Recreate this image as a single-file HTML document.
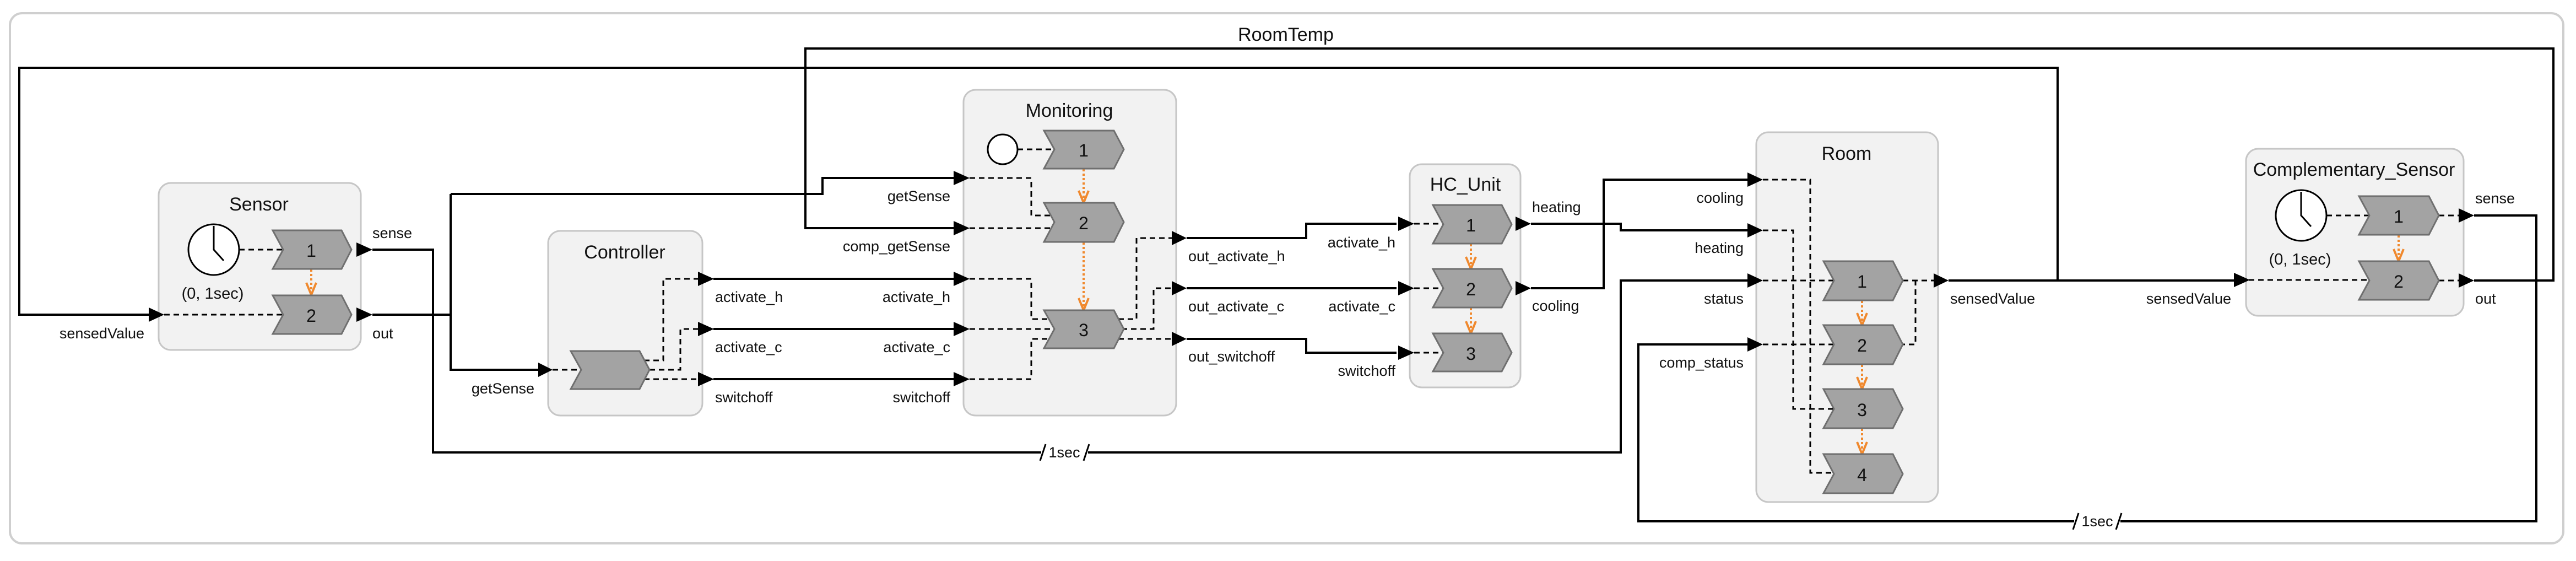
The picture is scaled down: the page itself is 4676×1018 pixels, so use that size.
<!DOCTYPE html>
<html><head><meta charset="utf-8"><style>
html,body{margin:0;padding:0;background:#fff;}
svg{display:block;}
text{font-family:"Liberation Sans",sans-serif;fill:#111;}
.l{font-size:27px;}
.t{font-size:34px;}
.n{font-size:32px;}
</style></head><body>
<svg width="4676" height="1018" viewBox="0 0 4676 1018" xmlns="http://www.w3.org/2000/svg">
<rect x="18" y="24" width="4635" height="962" rx="22" fill="#fff" stroke="#cfcfcf" stroke-width="4"/>

<g fill="#f2f2f2" stroke="#c6c6c6" stroke-width="3">
<rect x="288" y="332" width="367" height="303" rx="22"/>
<rect x="995" y="419" width="280" height="335" rx="22"/>
<rect x="1749" y="163" width="386" height="591" rx="22"/>
<rect x="2559" y="298" width="201" height="405" rx="22"/>
<rect x="3188" y="240" width="330" height="671" rx="22"/>
<rect x="4077" y="270" width="395" height="303" rx="22"/>
</g>
<g class="t" text-anchor="middle" dominant-baseline="central">
<text x="470" y="371" class="t">Sensor</text>
<text x="1134" y="458" class="t">Controller</text>
<text x="1941" y="201" class="t">Monitoring</text>
<text x="2660" y="335" class="t">HC_Unit</text>
<text x="3352" y="279" class="t">Room</text>
<text x="4273" y="308" class="t">Complementary_Sensor</text>
<text x="2334" y="63" class="t">RoomTemp</text>
</g>

<g fill="none" stroke="#000" stroke-width="4">
<path d="M3537,509 L4057,509"/>
<path d="M3735,509 L3735,123 L35,123 L35,571 L270,571"/>
<path d="M676,453 L786,453 L786,821 L1890,821 M1975,821 L2942,821 L2942,509 L3172,509"/>
<path d="M676,571 L818,571 M818,352 L818,671 L977,671 M818,352 L1493,352 L1493,323 L1731,323"/>
<path d="M1295,506 L1731,506 M1295,597 L1731,597 M1295,688 L1731,688"/>
<path d="M4491,509 L4635,509 L4635,88 L1462,88 L1462,414 L1731,414"/>
<path d="M2154,432 L2371,432 L2371,406 L2535,406 M2154,523 L2535,523 M2154,615 L2371,615 L2371,640 L2535,640"/>
<path d="M2779,406 L2942,406 L2942,418 L3172,418 M2779,523 L2911,523 L2911,326 L3172,326"/>
<path d="M4491,391 L4604,391 L4604,946 L3849,946 M3765,946 L2974,946 L2974,625 L3172,625"/>
</g>
<g stroke="#000" stroke-width="3">
<line x1="1888" y1="836" x2="1898" y2="806"/>
<line x1="1967" y1="836" x2="1977" y2="806"/>
<line x1="3763" y1="961" x2="3773" y2="931"/>
<line x1="3841" y1="961" x2="3851" y2="931"/>
</g>
<text x="1932" y="821" class="l" text-anchor="middle" dominant-baseline="central">1sec</text>
<text x="3807" y="946" class="l" text-anchor="middle" dominant-baseline="central">1sec</text>

<g fill="none" stroke="#000" stroke-width="3" stroke-dasharray="10 7">
<path d="M434,453 L514,453 M298,571 L514,571"/>
<path d="M1003,671 L1055,671 M1169,654 L1204,654 L1204,506 L1267,506 M1179,671 L1235,671 L1235,597 L1267,597 M1169,688 L1267,688"/>
<path d="M1847,271 L1914,271 M1760,323 L1872,323 L1872,391 L1914,391 M1760,414 L1914,414 M1760,506 L1872,506 L1872,579 L1914,579 M1760,597 L1914,597 M1760,688 L1872,688 L1872,615 L1914,615"/>
<path d="M2030,579 L2063,579 L2063,432 L2127,432 M2036,597 L2094,597 L2094,523 L2127,523 M2030,615 L2127,615"/>
<path d="M2567,406 L2620,406 M2567,523 L2620,523 M2567,640 L2620,640"/>
<path d="M3200,326 L3286,326 L3286,858 L3329,858 M3200,418 L3255,418 L3255,742 L3329,742 M3200,509 L3329,509 M3200,625 L3329,625"/>
<path d="M3454,509 L3510,509 M3448,625 L3477,625 L3477,509"/>
<path d="M4223,391 L4301,391 M4082,508 L4301,508 M4427,391 L4463,391 M4427,509 L4463,509"/>
</g>

<g fill="#000">
<polygon points="270,558 298,571 270,584"/>
<polygon points="647,440 676,453 647,466"/>
<polygon points="647,558 676,571 647,584"/>
<polygon points="977,658 1003,671 977,684"/>
<polygon points="1267,493 1296,506 1267,519"/>
<polygon points="1267,584 1296,597 1267,610"/>
<polygon points="1267,675 1296,688 1267,701"/>
<polygon points="1731,310 1760,323 1731,336"/>
<polygon points="1731,401 1760,414 1731,427"/>
<polygon points="1731,493 1760,506 1731,519"/>
<polygon points="1731,584 1760,597 1731,610"/>
<polygon points="1731,675 1760,688 1731,701"/>
<polygon points="2127,419 2154,432 2127,445"/>
<polygon points="2127,510 2154,523 2127,536"/>
<polygon points="2127,602 2154,615 2127,628"/>
<polygon points="2538,393 2567,406 2538,419"/>
<polygon points="2538,510 2567,523 2538,536"/>
<polygon points="2538,627 2567,640 2538,653"/>
<polygon points="2751,393 2779,406 2751,419"/>
<polygon points="2751,510 2779,523 2751,536"/>
<polygon points="3172,313 3200,326 3172,339"/>
<polygon points="3172,405 3200,418 3172,431"/>
<polygon points="3172,496 3200,509 3172,522"/>
<polygon points="3172,612 3200,625 3172,638"/>
<polygon points="3510,496 3537,509 3510,522"/>
<polygon points="4055,495 4084,508 4055,521"/>
<polygon points="4463,378 4491,391 4463,404"/>
<polygon points="4463,496 4491,509 4463,522"/>
</g>

<g fill="#fff" stroke="#000" stroke-width="3">
<circle cx="388" cy="453" r="46"/>
<circle cx="4177" cy="391" r="46"/>
<circle cx="1820" cy="271" r="27"/>
</g>
<g stroke="#000" stroke-width="3" fill="none">
<path d="M388,410 L388,453 L406,473"/>
<path d="M4177,348 L4177,391 L4195,411"/>
</g>
<text x="386" y="533" style="font-size:29px" text-anchor="middle" dominant-baseline="central">(0, 1sec)</text>
<text x="4175" y="471" style="font-size:29px" text-anchor="middle" dominant-baseline="central">(0, 1sec)</text>

<g stroke="#f0892e" stroke-width="4" fill="none">
<g stroke-dasharray="4 4">
<path d="M565,489 L565,532 M1967,307 L1967,365 M1967,440 L1967,560 M2670,443 L2670,485 M2670,559 L2670,602 M3380,546 L3380,587 M3380,662 L3380,703 M3380,778 L3380,821 M4354,427 L4354,471"/>
</g>
<path d="M556,513 L565,535 L574,513 M1958,346 L1967,368 L1976,346 M1958,541 L1967,563 L1976,541 M2661,466 L2670,488 L2679,466 M2661,583 L2670,605 L2679,583 M3371,568 L3380,590 L3389,568 M3371,684 L3380,706 L3389,684 M3371,802 L3380,824 L3389,802 M4345,452 L4354,474 L4363,452"/>
</g>

<g fill="#a3a3a3" stroke="#6f6f6f" stroke-width="3">
<polygon points="495,418 620,418 638,453 620,488 495,488 514,453"/>
<polygon points="495,536 620,536 638,571 620,606 495,606 514,571"/>
<polygon points="1036,637 1161,637 1179,671 1161,706 1036,706 1055,671"/>
<polygon points="1895,237 2022,237 2040,271 2022,306 1895,306 1914,271"/>
<polygon points="1895,368 2022,368 2040,403 2022,439 1895,439 1914,403"/>
<polygon points="1895,563 2022,563 2040,597 2022,632 1895,632 1914,597"/>
<polygon points="2601,372 2726,372 2744,407 2726,442 2601,442 2620,407"/>
<polygon points="2601,488 2726,488 2744,523 2726,558 2601,558 2620,523"/>
<polygon points="2601,605 2726,605 2744,640 2726,674 2601,674 2620,640"/>
<polygon points="3310,474 3436,474 3454,509 3436,545 3310,545 3329,509"/>
<polygon points="3310,590 3436,590 3454,625 3436,661 3310,661 3329,625"/>
<polygon points="3310,706 3436,706 3454,742 3436,777 3310,777 3329,742"/>
<polygon points="3310,824 3436,824 3454,860 3436,895 3310,895 3329,860"/>
<polygon points="4282,356 4409,356 4427,391 4409,426 4282,426 4301,391"/>
<polygon points="4282,474 4409,474 4427,509 4409,544 4282,544 4301,509"/>
</g>
<g class="n" text-anchor="middle" dominant-baseline="central">
<text x="565" y="455" class="n">1</text>
<text x="565" y="573" class="n">2</text>
<text x="1967" y="273" class="n">1</text>
<text x="1967" y="405" class="n">2</text>
<text x="1967" y="599" class="n">3</text>
<text x="2670" y="409" class="n">1</text>
<text x="2670" y="525" class="n">2</text>
<text x="2670" y="642" class="n">3</text>
<text x="3380" y="511" class="n">1</text>
<text x="3380" y="627" class="n">2</text>
<text x="3380" y="744" class="n">3</text>
<text x="3380" y="862" class="n">4</text>
<text x="4354" y="393" class="n">1</text>
<text x="4354" y="511" class="n">2</text>
</g>

<g class="l" dominant-baseline="central">
<text x="262" y="605" text-anchor="end" class="l">sensedValue</text>
<text x="676" y="423" class="l">sense</text>
<text x="676" y="605" class="l">out</text>
<text x="970" y="705" text-anchor="end" class="l">getSense</text>
<text x="1298" y="539" class="l">activate_h</text>
<text x="1298" y="630" class="l">activate_c</text>
<text x="1298" y="721" class="l">switchoff</text>
<text x="1725" y="356" text-anchor="end" class="l">getSense</text>
<text x="1725" y="447" text-anchor="end" class="l">comp_getSense</text>
<text x="1725" y="539" text-anchor="end" class="l">activate_h</text>
<text x="1725" y="630" text-anchor="end" class="l">activate_c</text>
<text x="1725" y="721" text-anchor="end" class="l">switchoff</text>
<text x="2157" y="465" class="l">out_activate_h</text>
<text x="2157" y="556" class="l">out_activate_c</text>
<text x="2157" y="647" class="l">out_switchoff</text>
<text x="2533" y="440" text-anchor="end" class="l">activate_h</text>
<text x="2533" y="556" text-anchor="end" class="l">activate_c</text>
<text x="2533" y="673" text-anchor="end" class="l">switchoff</text>
<text x="2781" y="376" class="l">heating</text>
<text x="2781" y="555" class="l">cooling</text>
<text x="3165" y="359" text-anchor="end" class="l">cooling</text>
<text x="3165" y="450" text-anchor="end" class="l">heating</text>
<text x="3165" y="542" text-anchor="end" class="l">status</text>
<text x="3165" y="658" text-anchor="end" class="l">comp_status</text>
<text x="3540" y="542" class="l">sensedValue</text>
<text x="4050" y="542" text-anchor="end" class="l">sensedValue</text>
<text x="4493" y="360" class="l">sense</text>
<text x="4493" y="542" class="l">out</text>
</g>
</svg>
</body></html>
